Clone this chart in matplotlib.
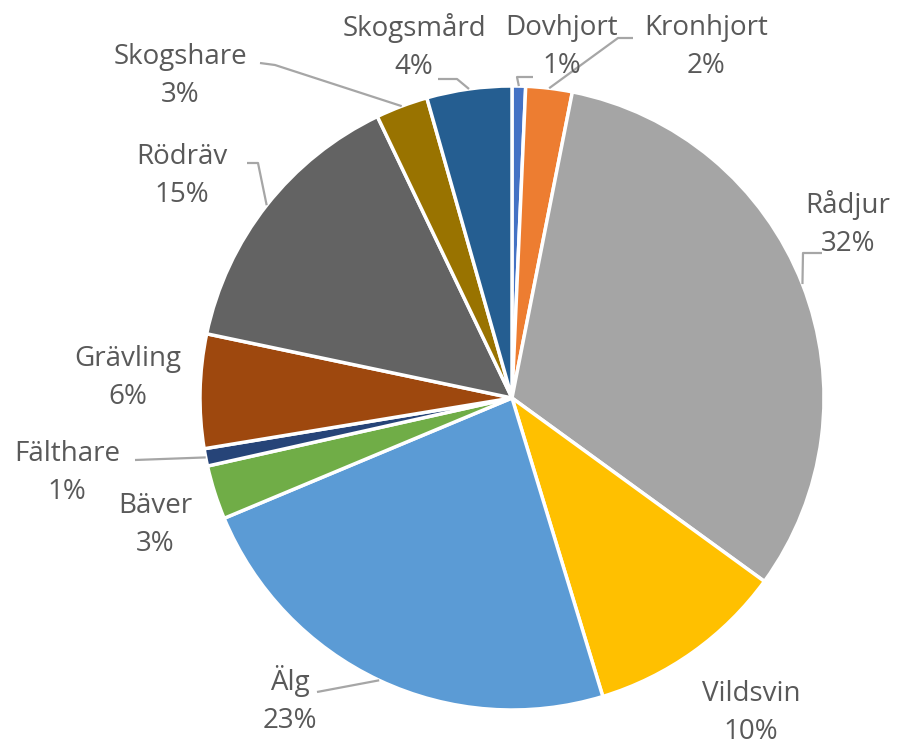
import numpy as np
import matplotlib
matplotlib.use('Agg')
import matplotlib.pyplot as plt

# data, clockwise from 12 o'clock
species = ['Dovhjort', 'Kronhjort', 'Rådjur', 'Vildsvin', 'Älg', 'Bäver',
           'Fälthare', 'Grävling', 'Rödräv', 'Skogshare', 'Skogsmård']
shares = [0.7, 2.4, 31.9, 10.3, 23.4, 2.8, 0.9, 5.9, 14.6, 2.7, 4.4]
colors = ['#4472C4', '#ED7D31', '#A5A5A5', '#FFC000', '#5B9BD5', '#70AD47',
          '#264478', '#9E480E', '#636363', '#997300', '#255E91']

W, H = 904, 747
cx, cy, r = 512, 398, 312

# label centres (pixels from top-left) and leader paths (end, elbow)
label_pos = {
    'Dovhjort': (562, 47), 'Kronhjort': (706, 47), 'Rådjur': (848, 224),
    'Vildsvin': (751, 713), 'Älg': (290, 700), 'Bäver': (155, 525),
    'Fälthare': (67, 473), 'Grävling': (128, 378), 'Rödräv': (182, 176),
    'Skogshare': (180, 76), 'Skogsmård': (414, 47),
}
leaders = {
    'Dovhjort': [(533, 77), (517, 77)],
    'Kronhjort': [(633, 38), (618, 38)],
    'Rådjur': [(822, 253), (803, 253)],
    'Älg': [(317, 692)],
    'Fälthare': [(135, 460)],
    'Rödräv': [(247, 163), (258, 163)],
    'Skogshare': [(260, 63), (275, 65)],
    'Skogsmård': [(438, 79), (457, 79)],
}

fig = plt.figure(figsize=(W / 100, H / 100), dpi=100)
ax = fig.add_axes([0, 0, 1, 1])
ax.axis('off')

wedges, _ = ax.pie(shares, colors=colors, startangle=90, counterclock=False,
                   center=(cx, H - cy), radius=r,
                   wedgeprops=dict(edgecolor='white', linewidth=2.5))
ax.set_xlim(0, W)
ax.set_ylim(0, H)
ax.set_aspect('equal')

total = sum(shares)
for name, val, w in zip(species, shares, wedges):
    lx, ly = label_pos[name]
    ax.text(lx, H - ly, f'{name}\n{val / total * 100:.0f}%', ha='center', va='center',
            fontsize=20, color='#595959', family=['Open Sans', 'DejaVu Sans'],
            linespacing=1.5)
    if name in leaders:
        mid = np.deg2rad((w.theta1 + w.theta2) / 2)
        ax_pt = (cx + r * np.cos(mid), (H - cy) + r * np.sin(mid))
        pts = [(x, H - y) for x, y in leaders[name]] + [ax_pt]
        xs, ys = zip(*pts)
        ax.plot(xs, ys, color='#A6A6A6', lw=1.6, solid_capstyle='butt')

fig.savefig('out.png', dpi=100)
